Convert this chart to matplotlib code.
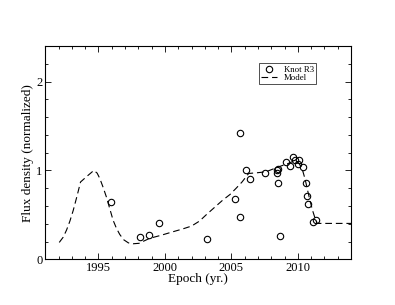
import matplotlib
matplotlib.use("Agg")
import matplotlib.pyplot as plt
from matplotlib.ticker import MultipleLocator

plt.rcParams['font.family'] = ['Liberation Serif', 'DejaVu Serif']

obs_year = [1995.93, 1998.16, 1998.8, 1999.53, 2003.2, 2005.25, 2005.63, 2005.63,
            2006.13, 2006.4, 2007.55, 2008.4, 2008.45, 2008.5, 2008.53, 2008.68,
            2009.08, 2009.41, 2009.63, 2009.78, 2009.98, 2010.08, 2010.38, 2010.58,
            2010.66, 2010.8, 2011.16, 2011.38]
obs_flux = [0.647, 0.247, 0.27, 0.408, 0.232, 0.677, 1.423, 0.475,
            1.01, 0.90, 0.97, 0.966, 1.0, 1.02, 0.86, 0.265,
            1.10, 1.045, 1.146, 1.12, 1.07, 1.115, 1.037, 0.857,
            0.707, 0.625, 0.423, 0.438]

model_year = [1992.05, 1992.35, 1992.6, 1992.85, 1993.1, 1993.4, 1993.65, 1994.1,
              1994.65, 1994.9, 1995.1, 1995.35, 1995.6, 1995.85, 1996.1, 1996.35,
              1996.6, 1996.9, 1997.25, 1997.6, 1998.05, 1998.85, 1999.7, 2000.6,
              2001.3, 2002.0, 2002.6, 2003.1, 2003.7, 2004.35, 2004.9, 2005.36,
              2005.8, 2006.3, 2007.0, 2007.6, 2008.2, 2008.73, 2009.3, 2009.75,
              2010.1, 2010.36, 2010.55, 2010.73, 2010.9, 2011.1, 2011.3, 2011.45,
              2014.0]
model_flux = [0.19, 0.25, 0.33, 0.43, 0.55, 0.72, 0.87, 0.93,
              1.0, 0.97, 0.91, 0.81, 0.70, 0.57, 0.44, 0.35,
              0.28, 0.22, 0.185, 0.175, 0.18, 0.236, 0.27, 0.31,
              0.34, 0.374, 0.43, 0.5, 0.58, 0.666, 0.73, 0.80,
              0.87, 0.966, 0.975, 0.985, 1.02, 1.05, 1.08, 1.11,
              1.08, 1.0, 0.9, 0.78, 0.67, 0.554, 0.46, 0.404,
              0.404]

fig = plt.figure(figsize=(3.95, 3.05), dpi=100)
ax = fig.add_axes([0.1147, 0.1498, 0.8886 - 0.1147, 0.849 - 0.1498])

ax.plot(obs_year, obs_flux, linestyle='none', marker='o', markersize=4.6,
        markerfacecolor='none', markeredgecolor='black', markeredgewidth=0.8,
        label='Knot R3')
ax.plot(model_year, model_flux, color='black', linewidth=0.8,
        dashes=(6, 3.5), label='Model')

ax.set_xlim(1991, 2014)
ax.set_ylim(0, 2.4)
ax.xaxis.set_major_locator(MultipleLocator(5))
ax.xaxis.set_minor_locator(MultipleLocator(1))
ax.yaxis.set_major_locator(MultipleLocator(1))
ax.yaxis.set_minor_locator(MultipleLocator(0.2))
ax.tick_params(which='both', direction='in', top=True, right=True,
               labelsize=9, width=0.6, pad=2)
ax.tick_params(which='major', length=4.5)
ax.tick_params(which='minor', length=2.2)
for s in ax.spines.values():
    s.set_linewidth(0.8)

ax.set_xlabel('Epoch (yr.)', fontsize=9.5, labelpad=-1)
ax.set_ylabel('Flux density (normalized)', fontsize=9.5, labelpad=2)

leg = ax.legend(loc='upper left', bbox_to_anchor=((259 - 45.3) / (351 - 45.3), 1 - (63.3 - 46) / (259.3 - 46)),
                fontsize=6.3, frameon=True, fancybox=False, edgecolor='black',
                handlelength=1.8, handletextpad=0.8, borderpad=0.25, labelspacing=0.05,
                borderaxespad=0)
leg.get_frame().set_linewidth(0.6)

fig.savefig('out.png', dpi=100)
